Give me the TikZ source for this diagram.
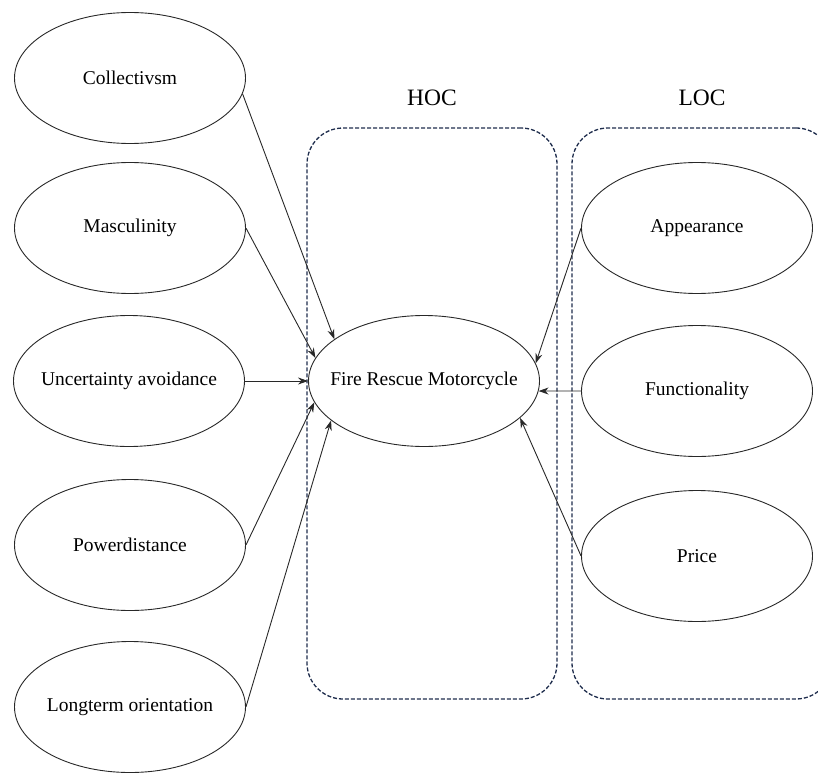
\documentclass[tikz,border=0pt]{standalone}
\usepackage{fontspec}
\setmainfont{Liberation Serif}
\usetikzlibrary{arrows.meta, positioning, shapes.geometric}

\definecolor{boxnavy}{RGB}{31,45,77}
\definecolor{rimgray}{RGB}{40,40,40}

\begin{document}
\begin{tikzpicture}[x=1pt, y=-1pt]
        \tikzset{
            >={Stealth[length=10pt, width=7pt]}, % small filled arrow heads
            construct/.style={ellipse, draw=rimgray, line width=0.9pt, minimum width=231pt, minimum height=131pt, inner xsep=-45pt, inner ysep=-10pt, font=\fontsize{19.5}{23}\selectfont}, % every latent variable, fixed size
            groupbox/.style={draw=boxnavy, line width=1.3pt, dash pattern=on 4pt off 2pt, rounded corners=36pt}, % the HOC / LOC frames
            grouplabel/.style={font=\fontsize{23.5}{28}\selectfont}, % text above the frames
            link/.style={->, line width=0.9pt, draw=rimgray}, % paths between constructs
            }
        \useasboundingbox (0,0) rectangle (818,773);

        % frames
        \node[groupbox, minimum width=250pt, minimum height=571pt] (hoc_box) at (432,413.5) {};
        \node[groupbox, minimum width=260pt, minimum height=571pt] (loc_box) at (702,413.5) {};
        \node[grouplabel] (hoc_label) at (432,98) {HOC};
        \node[grouplabel] (loc_label) at (702,98) {LOC};

        % nodes
        \node[construct] (frm_var) at (424,381) {Fire Rescue Motorcycle};
        \node[construct] (collectivism_var) at (130,78) {Collectivsm};
        \node[construct] (masculinity_var) at (130,228) {Masculinity};
        \node[construct] (uncertainty_var) at (129,381) {Uncertainty avoidance};
        \node[construct] (powerdistance_var) at (130,545) {Powerdistance};
        \node[construct] (longterm_var) at (130,707) {Longterm orientation};
        \node[construct] (appearance_var) at (697,228) {Appearance};
        \node[construct] (functionality_var) at (697,391) {Functionality};
        \node[construct] (price_var) at (697,556) {Price};

        % left side paths
        \draw[link] (collectivism_var.-8) -- (frm_var.155.5);
        \draw[link] (masculinity_var.east) -- (frm_var.168);
        \draw[link] (uncertainty_var.east) -- (frm_var.west);
        \draw[link] (powerdistance_var.east) -- (frm_var.191);
        \draw[link] (longterm_var.east) -- (frm_var.203.5);

        % right side paths
        \draw[link] (appearance_var.west) -- (frm_var.9.7);
        \draw[link] (functionality_var.west) -- (frm_var.-5);
        \draw[link] (price_var.west) -- (frm_var.-21.3);
    \end{tikzpicture}
\end{document}
